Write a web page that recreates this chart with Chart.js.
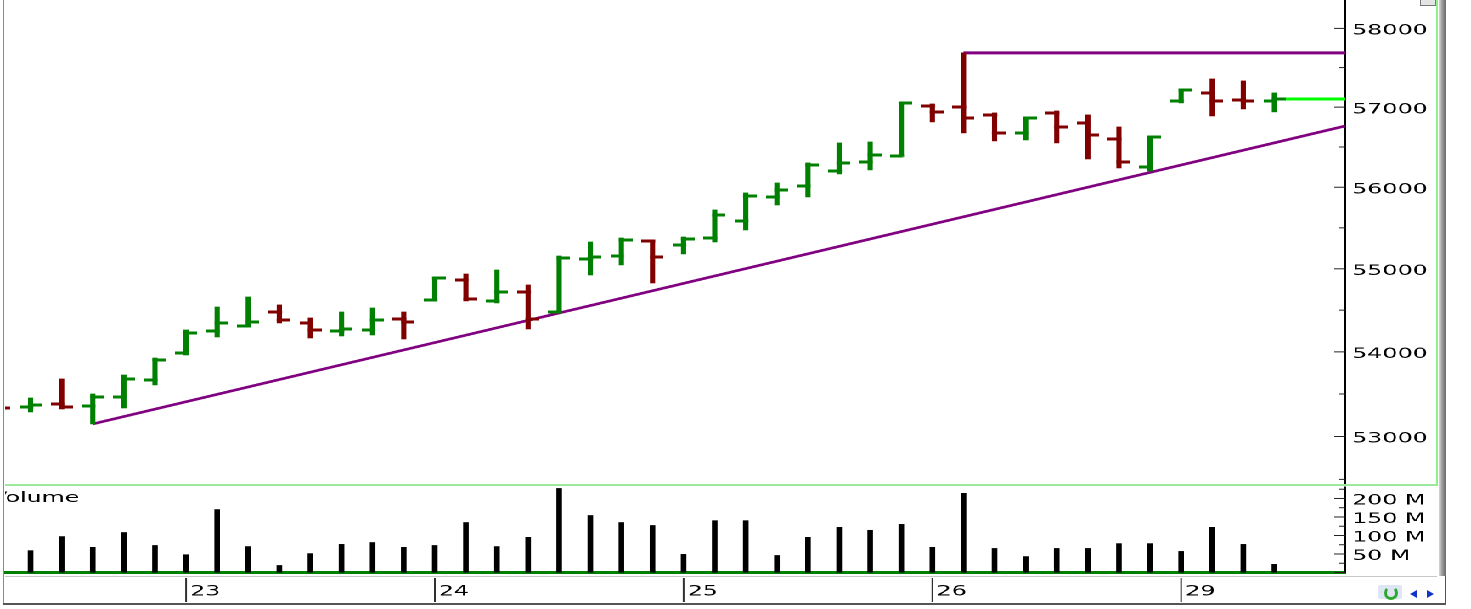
<!DOCTYPE html>
<html>
<head>
<meta charset="utf-8">
<title>Hourly bars with volume</title>
<script src="https://cdn.jsdelivr.net/npm/chart.js@4.4.1/dist/chart.umd.min.js"></script>
<style>
  html, body { margin: 0; padding: 0; background: #fff; overflow: hidden; }
  #root { position: relative; width: 1471px; height: 609px; }
  /* the source bitmap is stretched sideways, so the chart is drawn narrow and widened */
  #stretch { position: absolute; left: 0; top: 0; width: 866px; height: 609px; transform: scaleX(1.698614); transform-origin: 0 0; }
  #price { position: absolute; left: 0; top: 0; }
  #volume { position: absolute; left: 0; top: 485px; }
  .ln { position: absolute; }
</style>
</head>
<body>
<div id="root">
  <div id="stretch">
    <canvas id="price" width="866" height="485"></canvas>
    <canvas id="volume" width="866" height="124"></canvas>
  </div>
  <div class="ln" style="left:3px;top:0;width:1px;height:604px;background:#8a8a8a"></div>
  <div class="ln" style="left:5px;top:484px;width:1433px;height:2px;background:#9ee89e"></div>
  <div class="ln" style="left:1436px;top:0;width:2px;height:486px;background:#8cf08c"></div>
  <div class="ln" style="left:5px;top:576px;width:1432px;height:1px;background:#c8c8c8"></div>
  <div class="ln" style="left:3px;top:603px;width:1443px;height:2px;background:#555"></div>
  <div class="ln" style="left:1439px;top:0;width:7px;height:576px;background:linear-gradient(to right,#d8d8d8,#9a9a9a 45%,#6a6a6a)"></div>
  <div class="ln" style="left:1445px;top:576px;width:1px;height:28px;background:#555"></div>
  <div class="ln" style="left:1420px;top:0;width:14px;height:5px;background:#e4e4e4;border:1px solid #777;border-top:none"></div>
  <div class="ln" style="left:1378px;top:585px;width:24px;height:14px;background:#dde6f2;border-radius:2px"></div>
  <div class="ln" style="left:1384px;top:586px;width:8px;height:8px;border:3px solid #2ea82e;border-top-color:transparent;border-radius:50%"></div>
  <div class="ln" style="left:1410px;top:590px;width:0;height:0;border-top:4px solid transparent;border-bottom:4px solid transparent;border-right:7px solid #1434c8"></div>
  <div class="ln" style="left:1427px;top:590px;width:0;height:0;border-top:4px solid transparent;border-bottom:4px solid transparent;border-left:7px solid #1434c8"></div>
</div>
<script>
// hourly bars, numbered from the partly hidden one at the left edge
const barNo = [0, 1, 2, 3, 4, 5, 6, 7, 8, 9, 10, 11, 12, 13, 14, 15, 16, 17, 18, 19, 20,
  21, 22, 23, 24, 25, 26, 27, 28, 29, 30, 31, 32, 33, 34, 35, 36, 37, 38, 39, 40, 41];
const dayStart = [6, 14, 22, 30, 38];
const dayLabels = ['23', '24', '25', '26', '29'];

const openP = [53370, 53347, 53382, 53358, 53465, 53666, 53987, 54250, 54310, 54478, 54346,
  54250, 54262, 54394, 54623, 54865, 54611, 54719, 54478, 55120, 55156, 55340, 55291, 55376,
  55585, 55880, 56016, 56202, 56314, 56389, 57015, 57003, 56902, 56676, 56927, 56801, 56601,
  56252, 57078, 57179, 57091, 57078];
const highP = [53406, 53453, 53678, 53500, 53725, 53927, 54262, 54538, 54659, 54563, 54406,
  54478, 54526, 54478, 54901, 54937, 54986, 54804, 55156, 55327, 55376, 55352, 55388, 55720,
  55930, 56053, 56302, 56551, 56563, 57066, 57040, 57687, 56927, 56877, 56952, 56902, 56751,
  56638, 57230, 57356, 57331, 57179];
const lowP = [53288, 53288, 53323, 53147, 53335, 53607, 53963, 54178, 54298, 54346, 54166,
  54190, 54202, 54154, 54611, 54611, 54587, 54274, 54466, 54925, 55047, 54828, 55181, 55327,
  55474, 55781, 55880, 56165, 56215, 56389, 56814, 56676, 56576, 56588, 56551, 56351, 56239,
  56202, 57053, 56889, 56977, 56940];
const closeP = [53335, 53370, 53347, 53465, 53678, 53904, 54226, 54346, 54358, 54382, 54262,
  54274, 54382, 54358, 54889, 54635, 54719, 54394, 55132, 55144, 55352, 55144, 55364, 55658,
  55893, 55967, 56277, 56302, 56401, 57053, 56940, 56864, 56676, 56864, 56751, 56651, 56314,
  56626, 57217, 57078, 57078, 57103];
// volume in millions
const volumeM = [null, 59, 97, 68, 108, 73, 48, 170, 70, 19, 51, 76, 81, 68, 73, 135, 70, 95,
  227, 154, 135, 127, 49, 140, 140, 46, 95, 122, 114, 130, 68, 214, 65, 43, 65, 65, 78, 78,
  57, 122, 76, 22];

const priceTicks = [52500, 53000, 53500, 54000, 54500, 55000, 55500, 56000, 56500, 57000, 57500, 58000];
const volumeTicks = [0, 25, 50, 75, 100, 125, 150, 175, 200, 225];

// drawn lines: support through two lows, resistance at one high
const supportFrom = 3, supportTo = 18, resistanceBar = 31;

const X_MIN = 0.18, X_MAX = 43.28;
const P_MIN = 52435, P_MAX = 58365;
const V_MAX = 231;

const GREEN = '#008000', RED = '#800000';
const AXIS_W = 74;

Chart.defaults.font.family = '"DejaVu Sans", Verdana, sans-serif';
Chart.defaults.font.size = 14;
Chart.defaults.color = '#000';

const barColor = barNo.map(i => closeP[i] >= openP[i] ? GREEN : RED);

function tickImage(color, side) {
  const c = document.createElement('canvas');
  c.width = 13; c.height = 3;
  const g = c.getContext('2d');
  g.fillStyle = color;
  if (side === 'left') g.fillRect(0, 0, 7.7, 3);
  else g.fillRect(5.3, 0, 7.7, 3);
  return c;
}
const openImg = { [GREEN]: tickImage(GREEN, 'left'), [RED]: tickImage(RED, 'left') };
const closeImg = { [GREEN]: tickImage(GREEN, 'right'), [RED]: tickImage(RED, 'right') };

const lnA = Math.log(lowP[supportFrom]), lnB = Math.log(lowP[supportTo]);
const supportAt = x => Math.exp(lnA + (lnB - lnA) * (x - supportFrom) / (supportTo - supportFrom));

const fitRight = s => { s.width = AXIS_W; s.paddingTop = 0; s.paddingBottom = 0; };

// ticks on the inner side of the right axis, long ones at the labelled values
const innerTicks = {
  id: 'innerTicks',
  afterDraw(chart, args, opts) {
    const s = chart.scales.y, ctx = chart.ctx;
    ctx.save();
    ctx.strokeStyle = '#222';
    ctx.lineWidth = 1;
    for (const t of s.ticks) {
      const py = s.getPixelForValue(t.value);
      if (py < s.top - 1 || py > s.bottom + 1) continue;
      const len = t.value % opts.step === 0 ? 6.5 : 3.5;
      ctx.beginPath();
      ctx.moveTo(s.left, py);
      ctx.lineTo(s.left - len, py);
      ctx.stroke();
    }
    ctx.restore();
  }
};

const volumePanel = {
  id: 'volumePanel',
  afterDraw(chart) {
    const { ctx, chartArea } = chart;
    const xs = chart.scales.x;
    ctx.save();
    ctx.strokeStyle = '#303030';
    ctx.lineWidth = 1;
    for (const t of xs.ticks) {
      const px = xs.getPixelForValue(t.value);
      ctx.beginPath();
      ctx.moveTo(px, xs.top + 5.5);
      ctx.lineTo(px, xs.top + 29.5);
      ctx.stroke();
    }
    ctx.beginPath();
    ctx.rect(chartArea.left, chartArea.top, chartArea.right - chartArea.left, chartArea.bottom - chartArea.top);
    ctx.clip();
    ctx.fillStyle = '#000';
    ctx.font = '14px "DejaVu Sans", Verdana, sans-serif';
    ctx.textBaseline = 'alphabetic';
    ctx.fillText('Volume', chartArea.left - 8.3, chartArea.top + 15);
    ctx.restore();
  }
};

new Chart(document.getElementById('price'), {
  type: 'bar',
  data: {
    datasets: [
      {
        type: 'line', label: 'Last',
        data: [{ x: 41, y: closeP[41] }, { x: X_MAX, y: closeP[41] }],
        borderColor: '#00ff00', borderWidth: 3, pointRadius: 0, clip: 0, order: 5,
      },
      {
        type: 'line', label: 'Support',
        data: [{ x: supportFrom, y: lowP[supportFrom] }, { x: X_MAX, y: supportAt(X_MAX) }],
        borderColor: '#800080', borderWidth: 2.6, pointRadius: 0, clip: 0, order: 4,
      },
      {
        type: 'line', label: 'Resistance',
        data: [{ x: resistanceBar, y: highP[resistanceBar] }, { x: X_MAX, y: highP[resistanceBar] }],
        borderColor: '#800080', borderWidth: 3, pointRadius: 0, clip: 0, order: 4,
      },
      {
        type: 'bar', label: 'Range',
        data: barNo.map(i => ({ x: i, y: [lowP[i], highP[i]] })),
        backgroundColor: barColor, barThickness: 2.4, clip: 0, order: 2,
      },
      {
        type: 'line', label: 'Open',
        data: barNo.map(i => ({ x: i, y: openP[i] })),
        showLine: false, pointRadius: 3, clip: 0, order: 1,
        pointStyle: c => openImg[barColor[c.dataIndex]],
      },
      {
        type: 'line', label: 'Close',
        data: barNo.map(i => ({ x: i, y: closeP[i] })),
        showLine: false, pointRadius: 3, clip: 0, order: 1,
        pointStyle: c => closeImg[barColor[c.dataIndex]],
      },
    ],
  },
  options: {
    responsive: false,
    animation: false,
    devicePixelRatio: 2,
    events: [],
    layout: { autoPadding: false, padding: { left: 3, right: 0, top: 0, bottom: 0 } },
    plugins: { legend: { display: false }, tooltip: { enabled: false }, innerTicks: { step: 1000 } },
    scales: {
      x: { type: 'linear', offset: false, min: X_MIN, max: X_MAX, bounds: 'data', display: false },
      y: {
        type: 'logarithmic', position: 'right', min: P_MIN, max: P_MAX, bounds: 'data',
        afterBuildTicks: s => { s.ticks = priceTicks.map(v => ({ value: v })); },
        afterFit: fitRight,
        grid: { display: false, drawTicks: false },
        border: { display: true, color: '#000', width: 1 },
        ticks: {
          autoSkip: false, padding: 4, labelOffset: 2.5, color: '#000',
          callback: v => v % 1000 === 0 ? String(v) : '',
        },
      },
    },
  },
  plugins: [innerTicks],
});

new Chart(document.getElementById('volume'), {
  type: 'bar',
  data: {
    datasets: [{
      label: 'Volume',
      data: barNo.map(i => ({ x: i, y: volumeM[i] })),
      backgroundColor: '#000', barThickness: 2.65, clip: 0,
    }],
  },
  options: {
    responsive: false,
    animation: false,
    devicePixelRatio: 2,
    events: [],
    layout: { autoPadding: false, padding: { left: 3, right: 0, top: 2, bottom: 0 } },
    plugins: { legend: { display: false }, tooltip: { enabled: false }, innerTicks: { step: 50 } },
    scales: {
      x: {
        type: 'linear', position: 'bottom', offset: false, min: X_MIN, max: X_MAX, bounds: 'data',
        afterBuildTicks: s => { s.ticks = dayStart.map(v => ({ value: v })); },
        afterFit: s => { s.height = 36.5; s.paddingLeft = 0; s.paddingRight = 0; },
        grid: { display: false, drawTicks: false, offset: false },
        border: { display: true, color: GREEN, width: 3 },
        ticks: {
          autoSkip: false, maxRotation: 0, align: 'start', labelOffset: 2.4, padding: 11,
          color: '#000', callback: (v, i) => dayLabels[i],
        },
      },
      y: {
        type: 'linear', position: 'right', min: 0, max: V_MAX, bounds: 'data',
        afterBuildTicks: s => { s.ticks = volumeTicks.map(v => ({ value: v })); },
        afterFit: fitRight,
        grid: { display: false, drawTicks: false },
        border: { display: true, color: '#000', width: 1 },
        ticks: {
          autoSkip: false, padding: 4, labelOffset: 2.5, color: '#000',
          callback: v => (v > 0 && v % 50 === 0) ? v + ' M' : '',
        },
      },
    },
  },
  plugins: [innerTicks, volumePanel],
});
</script>
</body>
</html>
